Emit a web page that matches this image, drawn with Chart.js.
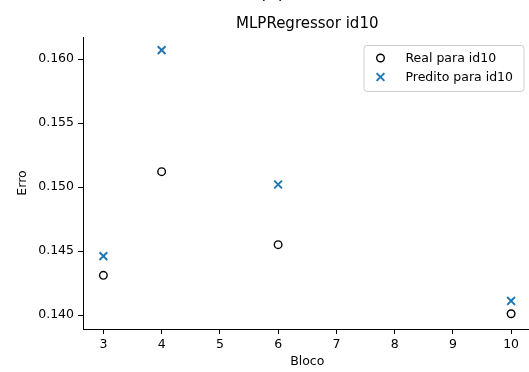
<!DOCTYPE html>
<html lang="pt">
<head>
    <meta charset="UTF-8">
    <title>MLPRegressor id10</title>
    <script src="https://cdn.jsdelivr.net/npm/chart.js"></script>
    <style>
        html, body { margin: 0; padding: 0; background: #fff; overflow: hidden; }
        canvas { display: block; }
    </style>
</head>
<body>
    <canvas id="erroChart" width="539" height="372"></canvas>

    <script>
        // Data
        const blocos = [3, 4, 6, 10];
        const realVals = [0.1431, 0.1512, 0.1455, 0.1401];
        const preditoVals = [0.1446, 0.1607, 0.1502, 0.1411];
        const xTicks = [3, 4, 5, 6, 7, 8, 9, 10];
        const yTicks = [0.140, 0.145, 0.150, 0.155, 0.160];
        const titleText = 'MLPRegressor id10';

        const FONT = 'DejaVu Sans';
        const BLUE = '#1f77b4';

        // matplotlib-style legend box in the upper right corner
        const mplLegend = {
            id: 'mplLegend',
            afterDraw(chart) {
                const ctx = chart.ctx;
                const area = chart.chartArea;
                const w = 160, h = 46;
                const x0 = area.right - 8 - w;
                const y0 = area.top + 8;
                ctx.save();
                ctx.beginPath();
                ctx.roundRect(x0 + 0.5, y0 + 0.5, w, h, 3);
                ctx.fillStyle = 'rgba(255,255,255,0.8)';
                ctx.fill();
                ctx.strokeStyle = '#cccccc';
                ctx.lineWidth = 1;
                ctx.stroke();

                ctx.font = '12.5px ' + FONT;
                ctx.fillStyle = '#000';
                ctx.textBaseline = 'middle';
                chart.data.datasets.forEach((ds, i) => {
                    const my = y0 + 13 + i * 19;
                    const mx = x0 + 17;
                    ctx.lineWidth = ds.borderWidth;
                    ctx.strokeStyle = ds.borderColor;
                    ctx.beginPath();
                    if (ds.pointStyle === 'circle') {
                        ctx.arc(mx, my, ds.pointRadius, 0, Math.PI * 2);
                    } else {
                        const o = ds.pointRadius * Math.SQRT1_2;
                        ctx.moveTo(mx - o, my - o); ctx.lineTo(mx + o, my + o);
                        ctx.moveTo(mx - o, my + o); ctx.lineTo(mx + o, my - o);
                    }
                    ctx.stroke();
                    ctx.fillText(ds.label, x0 + 42, my + 1);
                });
                ctx.restore();
            }
        };

        // axes title centred over the plot area, plus the cut-off suptitle
        const titles = {
            id: 'titles',
            afterDraw(chart) {
                const ctx = chart.ctx;
                const area = chart.chartArea;
                ctx.save();
                ctx.fillStyle = '#000';
                ctx.textAlign = 'center';
                ctx.font = '15px ' + FONT;
                ctx.textBaseline = 'middle';
                ctx.fillText(titleText, (area.left + area.right) / 2, 24);
                ctx.font = '18px ' + FONT;
                ctx.textBaseline = 'alphabetic';
                ctx.fillText('(b)', 272, -1.5);
                ctx.restore();
            }
        };

        const ctx = document.getElementById('erroChart').getContext('2d');
        new Chart(ctx, {
            type: 'scatter',
            data: {
                datasets: [{
                    label: 'Real para id10',
                    data: blocos.map((b, i) => ({ x: b, y: realVals[i] })),
                    pointStyle: 'circle',
                    pointRadius: 3.8,
                    borderWidth: 1.4,
                    borderColor: '#000',
                    backgroundColor: 'rgba(0,0,0,0)'
                }, {
                    label: 'Predito para id10',
                    data: blocos.map((b, i) => ({ x: b, y: preditoVals[i] })),
                    pointStyle: 'crossRot',
                    pointRadius: 5.5,
                    borderWidth: 2,
                    borderColor: BLUE,
                    backgroundColor: BLUE
                }]
            },
            options: {
                responsive: false,
                animation: false,
                events: [],
                layout: { padding: { left: 0, right: 2, top: 37, bottom: 0 } },
                plugins: {
                    legend: { display: false },
                    tooltip: { enabled: false },
                    title: { display: false }
                },
                scales: {
                    x: {
                        type: 'linear',
                        min: 2.65,
                        max: 10.35,
                        afterBuildTicks: s => { s.ticks = xTicks.map(v => ({ value: v })); },
                        afterFit: s => { s.height = 43; },
                        grid: { drawOnChartArea: false, drawTicks: true, tickLength: 5, color: '#000' },
                        border: { display: true, color: '#000', width: 1 },
                        ticks: { color: '#000', padding: 3, font: { family: FONT, size: 12.5 } },
                        title: {
                            display: true, text: 'Bloco', color: '#000',
                            font: { family: FONT, size: 12.5 },
                            padding: { top: 0, bottom: 3 }
                        }
                    },
                    y: {
                        min: 0.13891,
                        max: 0.16172,
                        afterBuildTicks: s => { s.ticks = yTicks.map(v => ({ value: v })); },
                        afterFit: s => { s.width = 83; },
                        grid: { drawOnChartArea: false, drawTicks: true, tickLength: 5, color: '#000' },
                        border: { display: true, color: '#000', width: 1 },
                        ticks: {
                            color: '#000', padding: 4,
                            font: { family: FONT, size: 12.5 },
                            callback: v => v.toFixed(3)
                        },
                        title: {
                            display: true, text: 'Erro', color: '#000',
                            font: { family: FONT, size: 12.5 },
                            padding: { top: 15, bottom: 0 }
                        }
                    }
                }
            },
            plugins: [mplLegend, titles]
        });
    </script>
</body>
</html>
